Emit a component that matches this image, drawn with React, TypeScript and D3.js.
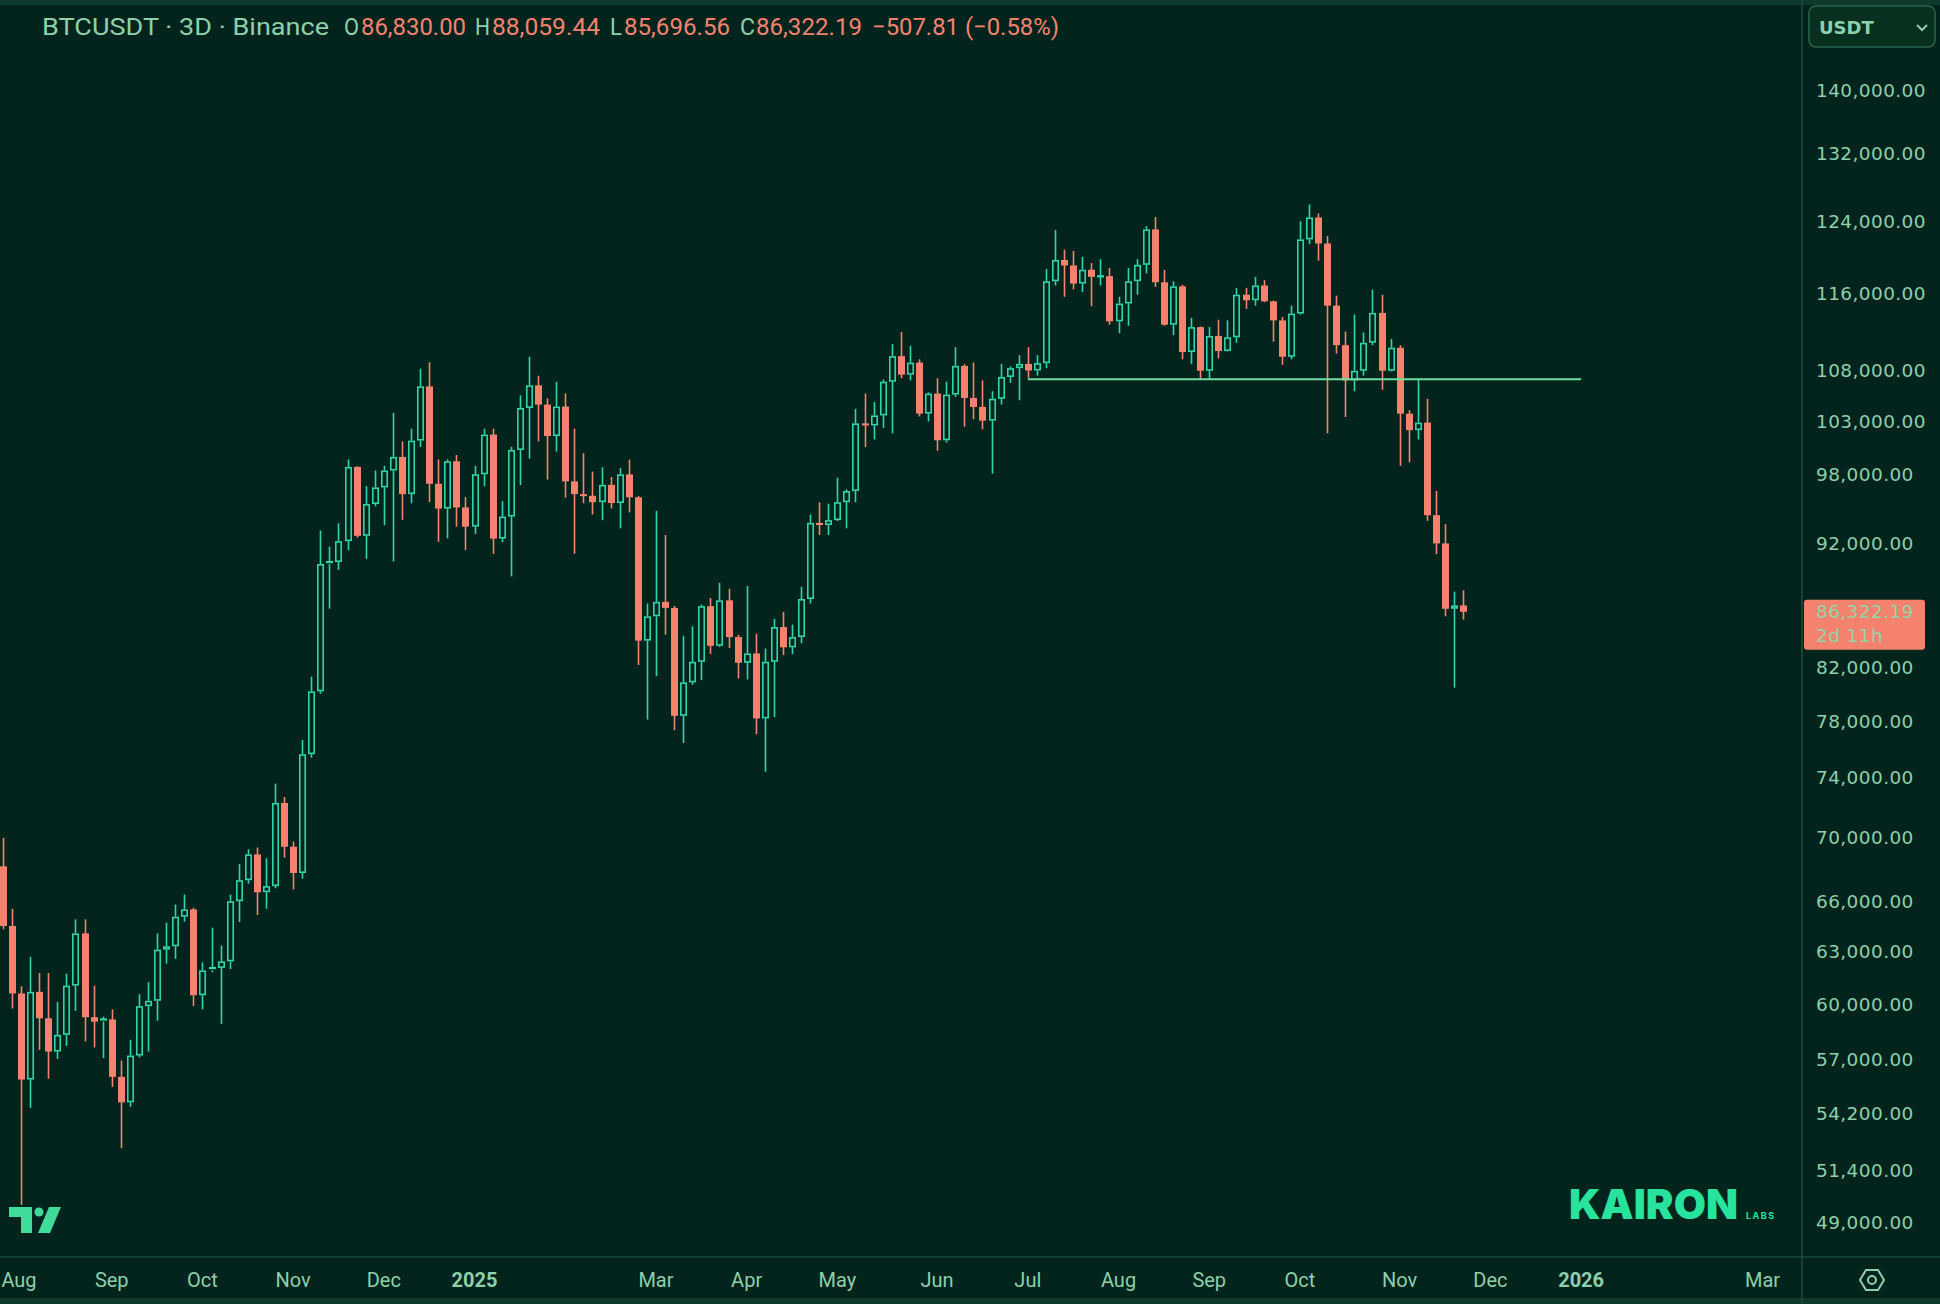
import React from "react";
import * as d3 from "d3";

const W = 1940;
const H = 1304;
const DAY = 86400000;
const BAR_DAYS = 3;
// first visible 3D bar (UTC)
const FIRST_BAR = Date.UTC(2024, 6, 29);
const LAST_BAR = Date.UTC(2025, 10, 24);

// OHLC of each 3D bar, Jul 29 2024 .. Nov 24 2025
const open = [
  68170, 64500, 60590, 55940, 60680, 59210, 57410, 58310, 61030, 64060,
  59270, 59030, 59150, 56080, 54770, 57200, 59880, 60180, 63100, 63300,
  65060, 65500, 60490, 61900, 62040, 62420, 66000, 67300, 68930, 66550,
  66930, 72300, 69420, 67750, 75640, 80180, 90230, 90400, 92160, 98730,
  92620, 95390, 96870, 98400, 99650, 96270, 101170, 106390, 97200, 94990,
  99250, 95090, 93410, 98060, 101740, 92380, 94290, 100300, 104280, 106490,
  104600, 101600, 104420, 97420, 96270, 96120, 95560, 97100, 95480, 98050,
  95990, 84040, 85960, 87120, 86630, 78380, 80850, 82410, 86770, 83640,
  87240, 84320, 82330, 83050, 78190, 82410, 85110, 83520, 84320, 87350,
  93740, 93550, 93980, 95550, 96550, 102800, 102600, 103560, 106850, 109410,
  107550, 108760, 103730, 105680, 101200, 105580, 108430, 105250, 104380, 103060,
  105170, 107320, 108200, 108630, 107970, 108700, 117280, 119620, 119010, 117030,
  118540, 117760, 117830, 113000, 114880, 117280, 119080, 123060, 117170, 112650,
  116730, 109830, 112400, 107940, 111480, 109930, 111340, 115830, 115230, 116820,
  115120, 113100, 109350, 113820, 121920, 124430, 121460, 114660, 110530, 106970,
  107940, 110780, 113890, 107940, 110270, 103730, 102160, 102870, 94410, 91970,
  86560, 86830,
];
const high = [
  70000, 65540, 61000, 62680, 61750, 61750, 60110, 61710, 64900, 64900,
  61030, 59300, 59700, 56940, 58040, 60550, 61230, 64060, 64700, 65800,
  66410, 65600, 62360, 64400, 63340, 66410, 68310, 69260, 69370, 68680,
  73600, 72700, 69750, 76650, 81280, 93080, 91700, 93700, 99420, 98800,
  96990, 98400, 98830, 103800, 101100, 102300, 108140, 108800, 99420, 99430,
  99830, 96010, 98830, 102300, 102300, 95640, 100580, 105510, 109360, 107440,
  105220, 106840, 105690, 102300, 99990, 98300, 98700, 97810, 98620, 99390,
  96100, 86980, 94780, 92690, 86800, 84420, 85160, 86900, 87430, 88660,
  88180, 84500, 88410, 84580, 83430, 85750, 86320, 85300, 88340, 94470,
  95550, 95420, 97750, 96700, 104190, 105680, 104840, 107070, 110640, 111900,
  110470, 109090, 105810, 107190, 106850, 110330, 108600, 108760, 106980, 105910,
  108630, 108370, 109510, 110330, 109510, 118620, 122980, 120780, 120620, 119970,
  119280, 119700, 118730, 115600, 118730, 119700, 123440, 124470, 118510, 117280,
  116900, 113360, 112470, 112400, 113170, 113100, 116560, 116560, 117760, 117400,
  115200, 113460, 114660, 123990, 125940, 124880, 122290, 115720, 111940, 113710,
  111840, 116370, 115830, 111160, 110530, 104060, 107130, 105170, 96560, 93630,
  87950, 88059.44,
];
const low = [
  64300, 59750, 49800, 54490, 57500, 55980, 57020, 57720, 59620, 57950,
  57630, 57070, 55560, 52490, 54540, 57100, 57410, 59080, 62290, 62560,
  64760, 59890, 59710, 61790, 58900, 61980, 64740, 67090, 65160, 65540,
  66800, 68720, 66720, 67400, 75400, 80000, 86580, 89740, 91400, 92460,
  90660, 95190, 93540, 90440, 94000, 95460, 100580, 95560, 92100, 92400,
  93410, 91400, 92780, 96990, 91090, 92070, 89200, 97090, 99490, 101100,
  97580, 100140, 95950, 91090, 95460, 94470, 93970, 94990, 93260, 94660,
  82160, 78110, 81320, 84500, 77340, 76430, 80670, 81020, 83000, 83560,
  83480, 81150, 81070, 77050, 74420, 78290, 82920, 83000, 83840, 86980,
  92690, 92690, 93900, 93260, 95550, 100560, 101270, 102370, 101850, 107190,
  106980, 103460, 102980, 100230, 100980, 105350, 102490, 103200, 102230, 98120,
  104610, 106740, 105030, 107230, 107450, 108200, 116820, 115600, 116390, 116100,
  114590, 116820, 112650, 111770, 112540, 115830, 118150, 116660, 112540, 111560,
  109090, 108630, 107130, 107130, 109190, 109900, 110780, 114310, 114660, 115020,
  110880, 108530, 109090, 113700, 121380, 119540, 101850, 109670, 103410, 105910,
  107450, 110530, 106050, 107870, 98830, 99150, 101270, 93920, 91060, 85960,
  80460, 85696.56,
];
const close = [
  64500, 60590, 55940, 60680, 59210, 57410, 58310, 61030, 64060, 59270,
  59030, 59150, 56080, 54770, 57200, 59880, 60180, 63100, 63300, 65060,
  65500, 60490, 61900, 62040, 62420, 66000, 67300, 68930, 66550, 66930,
  72300, 69420, 67750, 75640, 80180, 90230, 90400, 92160, 98730, 92620,
  95390, 96870, 98400, 99650, 96270, 101170, 106390, 97200, 94990, 99250,
  95090, 93410, 98060, 101740, 92380, 94290, 100300, 104280, 106490, 104600,
  101600, 104420, 97420, 96270, 96120, 95560, 97100, 95480, 98050, 95990,
  84040, 85960, 87120, 86630, 78380, 80850, 82410, 86770, 83640, 87240,
  84320, 82330, 83050, 78190, 82410, 85110, 83520, 84320, 87350, 93740,
  93550, 93980, 95550, 96550, 102800, 102600, 103560, 106850, 109410, 107550,
  108760, 103730, 105680, 101200, 105580, 108430, 105250, 104380, 103060, 105170,
  107320, 108200, 108630, 107970, 108700, 117280, 119620, 119010, 117030, 118540,
  117760, 117830, 113000, 114880, 117280, 119080, 123060, 117170, 112650, 116730,
  109830, 112400, 107940, 111480, 109930, 111340, 115830, 115230, 116820, 115120,
  113100, 109350, 113820, 121920, 124430, 121460, 114660, 110530, 106970, 107940,
  110780, 113890, 107940, 110270, 103730, 102160, 102870, 94410, 91970, 86560,
  86830, 86322.19,
];

const priceTicks = [
  140000, 132000, 124000, 116000, 108000, 103000, 98000, 92000, 82000, 78000,
  74000, 70000, 66000, 63000, 60000, 57000, 54200, 51400, 49000,
];

const timeTickLabels = [
  "Aug", "Sep", "Oct", "Nov", "Dec", "2025", "Mar", "Apr", "May", "Jun",
  "Jul", "Aug", "Sep", "Oct", "Nov", "Dec", "2026", "Mar",
];
const timeTickDates = [
  "2024-08-01", "2024-09-01", "2024-10-01", "2024-11-01", "2024-12-01", "2025-01-01",
  "2025-03-01", "2025-04-01", "2025-05-01", "2025-06-01", "2025-07-01", "2025-08-01",
  "2025-09-01", "2025-10-01", "2025-11-01", "2025-12-01", "2026-01-01", "2026-03-01",
];

// horizontal support level
const levelPrice = 107090;
const levelFrom = "2025-07-03";
const levelTo = "2026-01-02";

const symbolTitle = "BTCUSDT · 3D · Binance";
const countdown = "2d 11h";
const currency = "USDT";

const BG = "#02241c";
const UP = "#30d6a9";
const DOWN = "#f5826e";
const TXT = "#8dd0ab";
const GRIDLINE = "#1d4a3c";

export default function App() {
  const x = d3
    .scaleUtc()
    .domain([new Date(FIRST_BAR), new Date(LAST_BAR)])
    .range([2.9, 1463.2]);
  const y = d3.scaleLog().domain([49000, 140000]).range([1222.4, 90.3]);

  const step = x(new Date(FIRST_BAR + BAR_DAYS * DAY)) - x(new Date(FIRST_BAR));
  const bw = Math.round(step * 0.74);
  const fmt = d3.format(",.2f");

  const candles = open.map((o, i) => ({
    t: new Date(FIRST_BAR + i * BAR_DAYS * DAY),
    o,
    h: high[i],
    l: low[i],
    c: close[i],
  }));

  const barDateOnOrAfter = (iso: string) => {
    const t = Date.parse(iso + "T00:00:00Z");
    const k = Math.ceil((t - FIRST_BAR) / (BAR_DAYS * DAY));
    return new Date(FIRST_BAR + k * BAR_DAYS * DAY);
  };

  const last = candles[candles.length - 1];
  const chg = last.c - last.o;
  const pct = (chg / last.o) * 100;

  const lx1 = x(barDateOnOrAfter(levelFrom));
  const lx2 = x(barDateOnOrAfter(levelTo));
  const ly = y(levelPrice);

  const axisX = 1802;
  const axisY = 1257;
  const lastY = y(last.c);

  const header = [
    { t: symbolTitle, x: 42, w: 287, c: TXT },
    { t: "O", x: 344, w: 15, c: TXT },
    { t: fmt(last.o), x: 361, w: 105, c: DOWN },
    { t: "H", x: 475, w: 15, c: TXT },
    { t: fmt(last.h), x: 492, w: 108, c: DOWN },
    { t: "L", x: 610, w: 12, c: TXT },
    { t: fmt(last.l), x: 624, w: 106, c: DOWN },
    { t: "C", x: 740, w: 15, c: TXT },
    { t: fmt(last.c), x: 756, w: 106, c: DOWN },
    { t: `${fmt(chg)} (${d3.format(".2f")(pct)}%)`, x: 872, w: 187, c: DOWN },
  ];

  return (
    <svg
      width={W}
      height={H}
      viewBox={`0 0 ${W} ${H}`}
      style={{ position: "absolute", left: 0, top: 0, display: "block" }}
    >
      <rect x={0} y={0} width={W} height={H} fill={BG} />
      <rect x={0} y={0} width={W} height={5} fill="#0e3a2e" />
      <rect x={0} y={H - 6} width={W} height={6} fill="#0e3a2e" />

      {/* candles */}
      <g>
        {candles.map((d, i) => {
          const cx = Math.round(x(d.t)) + 0.5;
          const up = d.c >= d.o;
          const yo = y(d.o);
          const yc = y(d.c);
          const yh = y(d.h);
          const yl = y(d.l);
          const top = Math.min(yo, yc);
          const bot = Math.max(yo, yc);
          const col = up ? UP : DOWN;
          const bodyH = bot - top;
          if (up) {
            return (
              <g key={i}>
                <line x1={cx} x2={cx} y1={yh} y2={top} stroke={col} strokeWidth={1.6} />
                <line x1={cx} x2={cx} y1={bot} y2={yl} stroke={col} strokeWidth={1.6} />
                {bodyH < 2.5 ? (
                  <rect x={cx - bw / 2} y={top - 1} width={bw} height={2.2} fill={col} />
                ) : (
                  <rect
                    x={cx - bw / 2 + 0.8}
                    y={top + 0.8}
                    width={bw - 1.6}
                    height={bodyH - 1.6}
                    fill={BG}
                    stroke={col}
                    strokeWidth={1.6}
                  />
                )}
              </g>
            );
          }
          return (
            <g key={i}>
              <line x1={cx} x2={cx} y1={yh} y2={yl} stroke={col} strokeWidth={1.6} />
              <rect x={cx - bw / 2} y={top} width={bw} height={Math.max(bodyH, 2)} fill={col} />
            </g>
          );
        })}
      </g>

      {/* support level */}
      <line x1={lx1} x2={lx2} y1={ly} y2={ly} stroke="#6fdca0" strokeWidth={2} />

      {/* header */}
      <g fontFamily="Roboto, 'Noto Sans', sans-serif" fontSize={24}>
        {header.map((h, i) => (
          <text
            key={i}
            x={h.x}
            y={35}
            fill={h.c}
            textLength={h.w}
            lengthAdjust="spacingAndGlyphs"
          >
            {h.t}
          </text>
        ))}
      </g>

      {/* axes frame */}
      <line x1={axisX} x2={axisX} y1={0} y2={H} stroke={GRIDLINE} strokeWidth={1.5} />
      <line x1={0} x2={W} y1={axisY} y2={axisY} stroke={GRIDLINE} strokeWidth={1.5} />

      {/* price axis */}
      <g fontFamily="'DejaVu Sans', sans-serif" fontSize={18.5} letterSpacing={0.4} fill={TXT}>
        {priceTicks.map((v) => (
          <text key={v} x={1816} y={y(v)} dominantBaseline="central">
            {fmt(v)}
          </text>
        ))}
      </g>

      {/* last price label */}
      <rect x={1804} y={lastY - 12} width={121} height={50} rx={3} fill={DOWN} />
      <g fontFamily="'DejaVu Sans', sans-serif" fontSize={18.5} letterSpacing={0.4} fill="#93d4a4">
        <text x={1816} y={lastY} dominantBaseline="central">
          {fmt(last.c)}
        </text>
        <text x={1816} y={lastY + 24} dominantBaseline="central">
          {countdown}
        </text>
      </g>

      {/* currency selector */}
      <rect x={1809} y={6} width={126} height={41} rx={7} fill="#07301f" stroke="#2c6450" strokeWidth={1.5} />
      <text
        x={1819}
        y={27}
        dominantBaseline="central"
        fontFamily="'DejaVu Sans', sans-serif"
        fontWeight="bold"
        fontSize={18}
        fill={TXT}
      >
        {currency}
      </text>
      <path d="M1917 25 L1922 30 L1927 25" fill="none" stroke={TXT} strokeWidth={2} />

      {/* time axis */}
      <g fontFamily="Roboto, 'Noto Sans', sans-serif" fontSize={20} fill={TXT} textAnchor="middle">
        {timeTickLabels.map((lab, i) => {
          const bold = /^\d{4}$/.test(lab);
          const tx = Math.max(x(barDateOnOrAfter(timeTickDates[i])), 19);
          return (
            <text
              key={i}
              x={tx}
              y={1280}
              dominantBaseline="central"
              fontWeight={bold ? "bold" : "normal"}
            >
              {lab}
            </text>
          );
        })}
      </g>

      {/* settings icon */}
      <g fill="none" stroke={TXT} strokeWidth={2}>
        <path d="M1860 1280 L1866 1270 L1878 1270 L1884 1280 L1878 1290 L1866 1290 Z" />
        <circle cx={1872} cy={1280} r={4} />
      </g>

      {/* TradingView logo */}
      <g fill="#3fdc99">
        <path d="M9 1207 H32 V1233 H21 V1217 H9 Z" />
        <circle cx={39} cy={1212} r={4.5} />
        <path d="M49 1207 H61 L50 1233 H38 Z" />
      </g>

      {/* watermark */}
      <text
        x={1569}
        y={1219}
        fontFamily="Inter, 'Liberation Sans', sans-serif"
        fontWeight={900}
        fontSize={41}
        fill="#27e39d"
        textLength={169}
        lengthAdjust="spacingAndGlyphs"
      >
        KAIRON
      </text>
      <text
        x={1746}
        y={1219}
        fontFamily="Inter, 'Liberation Sans', sans-serif"
        fontWeight={700}
        fontSize={9}
        letterSpacing={1.5}
        fill="#27e39d"
      >
        LABS
      </text>
    </svg>
  );
}
